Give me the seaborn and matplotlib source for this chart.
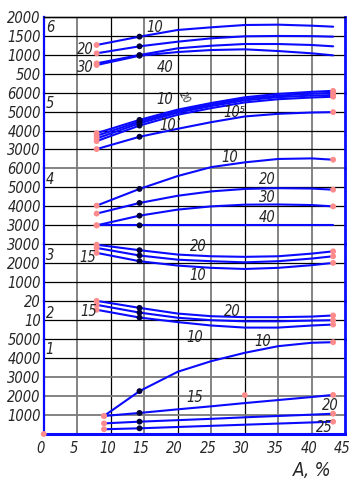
import matplotlib
matplotlib.use("Agg")
import matplotlib.pyplot as plt
import matplotlib.transforms as mtransforms
import seaborn as sns

sns.set_style("white")
plt.rcParams['font.family'] = ['DejaVu Sans']
plt.rcParams['font.style'] = 'oblique'
plt.rcParams['font.stretch'] = 'condensed'

W, H = 350, 482
FONT = dict(family='DejaVu Sans', style='oblique', stretch='condensed')

# ---------------- data ----------------
A_STD = [7.9, 14.3, 20, 25, 30, 35, 40, 43.2]
A_P1 = [9.0, 14.3, 20, 25, 30, 35, 40, 43.2]
A_FLAT = [7.9, 14.3, 43.2]
A_DOT = 14.3
x_ticks = [0, 5, 10, 15, 20, 25, 30, 35, 40, 45]

# panel 6
p6_ticks = [500, 1000, 1500, 2000]
p6_10 = [1254, 1474, 1650, 1720, 1781, 1790, 1763, 1737]
p6_20 = [1035, 1219, 1341, 1430, 1483, 1492, 1488, 1474]
p6_30 = [770, 990, 1166, 1235, 1280, 1280, 1254, 1219]
p6_40 = [726, 971, 1069, 1121, 1140, 1095, 1035, 981]

# panel 5
p5_ticks = [3000, 4000, 5000, 6000]
p5_a = [3860, 4560, 5100, 5450, 5750, 5930, 6040, 6090]
p5_b = [3720, 4470, 5020, 5370, 5670, 5840, 5940, 5990]
p5_c = [3580, 4380, 4940, 5290, 5590, 5760, 5840, 5870]
p5_d = [3440, 4260, 4830, 5180, 5480, 5650, 5740, 5780]
p5_e = [3020, 3670, 4090, 4440, 4740, 4880, 4950, 4970]

# panel 4
p4_ticks = [3000, 4000, 5000, 6000]
p4_10 = [4040, 4920, 5600, 6070, 6320, 6500, 6530, 6460]
p4_20 = [3620, 4180, 4560, 4790, 4920, 4960, 4940, 4880]
p4_30 = [3000, 3510, 3830, 4000, 4090, 4100, 4070, 4000]
p4_40 = [3000, 3000, 3000]

# panel 3
p3_ticks = [1000, 2000, 3000]
p3_a = [2980, 2690, 2460, 2370, 2340, 2370, 2510, 2630]
p3_b = [2810, 2410, 2190, 2110, 2050, 2110, 2250, 2370]
p3_c = [2550, 2110, 1880, 1760, 1700, 1760, 1900, 2020]

# panel 2
p2_ticks = [10, 20]
p2_a = [20.2, 16.5, 13.5, 12.1, 11.6, 11.6, 11.9, 12.5]
p2_b = [18.1, 14.0, 11.3, 10.0, 9.4, 9.4, 9.8, 10.0]
p2_c = [15.5, 11.4, 9.0, 7.2, 6.1, 6.1, 7.2, 7.7]

# panel 1
p1_ticks = [1000, 2000, 3000, 4000, 5000]
p1_10 = [950, 2260, 3280, 3840, 4280, 4630, 4810, 4840]
p1_15 = [950, 1110, 1300, 1460, 1630, 1790, 1950, 2060]
p1_20 = [560, 650, 730, 800, 880, 950, 1020, 1070]
p1_25 = [250, 300, 370, 430, 490, 550, 610, 650]
p1_extra_x = [0, 30]
p1_extra_y = [0, 2050]

# ---------------- figure ----------------
fig = plt.figure(figsize=(W / 100, H / 100), dpi=100)
left, right = 43.7 / W, 345.2 / W
top, bottom = 1 - 16.7 / H, 1 - 434 / H
gs = fig.add_gridspec(6, 1, height_ratios=[4, 4, 4, 3, 2, 5], hspace=0,
                      left=left, right=right, top=top, bottom=bottom)
axes = [fig.add_subplot(gs[i]) for i in range(6)]

BLUE = '#0a0aff'
PINK = '#ff8c8c'
DOT = '#00003a'
LW = 1.5

panels = [
    (p6_ticks, (0, 2000), [(A_STD, p6_10), (A_STD, p6_20), (A_STD, p6_30), (A_STD, p6_40)], 'start'),
    (p5_ticks, (2000, 6000), [(A_STD, p5_a), (A_STD, p5_b), (A_STD, p5_c), (A_STD, p5_d), (A_STD, p5_e)], 'both'),
    (p4_ticks, (2000, 6000), [(A_STD, p4_10), (A_STD, p4_20), (A_STD, p4_30), (A_FLAT, p4_40)], 'both'),
    (p3_ticks, (0, 3000), [(A_STD, p3_a), (A_STD, p3_b), (A_STD, p3_c)], 'both'),
    (p2_ticks, (0, 20), [(A_STD, p2_a), (A_STD, p2_b), (A_STD, p2_c)], 'both'),
    (p1_ticks, (0, 5000), [(A_P1, p1_10), (A_P1, p1_15), (A_P1, p1_20), (A_P1, p1_25)], 'both'),
]

gray_rows = {(2, 6000), (5, 2000), (5, 1000), (5, 3000)}
shift = mtransforms.ScaledTranslation(-3 / 100, 0, fig.dpi_scale_trans)

for i, (ax, (ticks, ylim, curves, pink)) in enumerate(zip(axes, panels)):
    ax.patch.set_visible(False)
    ax.set_xlim(0, 45)
    ax.set_ylim(*ylim)
    for xv in x_ticks[1:-1]:
        black = xv in (10, 20, 30)
        ax.axvline(xv, color='black' if black else '#7a7a7a',
                   lw=0.9 if black else 1.3, zorder=1)
    for t in ticks:
        g = (i, t) in gray_rows
        ax.axhline(t, color='#7a7a7a' if g else 'black',
                   lw=1.3 if g else 0.9, zorder=1, clip_on=False)
    for k, (xs, ys) in enumerate(curves):
        sns.lineplot(x=xs, y=ys, ax=ax, color=BLUE, lw=LW, zorder=3,
                     clip_on=False, sort=False)
        pts_x = [xs[0]]
        pts_y = [ys[0]]
        if pink == 'both' and not (i == 2 and k == 3):
            pts_x.append(xs[-1])
            pts_y.append(ys[-1])
        sns.scatterplot(x=pts_x, y=pts_y, ax=ax, color=PINK, s=18,
                        edgecolor='none', zorder=5, clip_on=False)
        sns.scatterplot(x=[A_DOT], y=[ys[1]], ax=ax, color=DOT, s=18,
                        edgecolor='none', zorder=5, clip_on=False)
    ax.set_yticks(ticks)
    ax.set_yticklabels([str(t) for t in ticks], fontsize=10.5, **FONT)
    ax.tick_params(axis='y', length=0, pad=2)
    ax.set_xticks(x_ticks)
    ax.tick_params(axis='x', length=0, pad=5)
    if i < 5:
        ax.set_xticklabels([])
    else:
        ax.set_xticklabels([str(x) for x in x_ticks], fontsize=10.5, **FONT)
        for lb in ax.get_xticklabels():
            lb.set_transform(lb.get_transform() + shift)
    for s in ('top', 'bottom'):
        ax.spines[s].set_visible(False)
    ax.spines['left'].set_color(BLUE)
    ax.spines['left'].set_linewidth(1.6)
    ax.spines['right'].set_color(BLUE)
    ax.spines['right'].set_linewidth(2.0)

axes[0].spines['top'].set_visible(True)
axes[0].spines['top'].set_color('black')
axes[0].spines['top'].set_linewidth(1.0)
axes[5].spines['bottom'].set_visible(True)
axes[5].spines['bottom'].set_color(BLUE)
axes[5].spines['bottom'].set_linewidth(2.2)
sns.scatterplot(x=p1_extra_x, y=p1_extra_y, ax=axes[5], color=PINK, s=18,
                edgecolor='none', zorder=6, clip_on=False)


def ptxt(px, py, s, fs=10.5, **kw):
    fig.text(px / W, 1 - py / H, s, ha='center', va='center', fontsize=fs,
             **FONT, **kw)


# panel numbers
for n, py in [('6', 27), ('5', 104), ('4', 180), ('3', 255), ('2', 313), ('1', 349)]:
    ptxt(50, py, n)

# curve labels
labels = [
    ('10', 155, 27), ('20', 85, 50), ('30', 85, 67), ('40', 165, 67),
    ('10', 165, 100), ('10\u2019', 170, 125), ('10\u2075', 234, 112),
    ('10', 230, 157), ('20', 267, 180), ('30', 267, 198), ('40', 267, 217),
    ('15', 88, 257), ('20', 198, 247), ('10', 198, 275),
    ('15', 89, 312), ('20', 232, 312), ('10', 195, 338),
    ('10', 263, 342), ('15', 195, 397), ('20', 330, 405), ('25', 324, 428),
]
for s, px, py in labels:
    ptxt(px, py, s)
ptxt(185, 98, '20', fs=7.5, rotation=-60)

ptxt(312, 471, 'A, %', fs=13.5)

fig.savefig('out.png', dpi=100)
